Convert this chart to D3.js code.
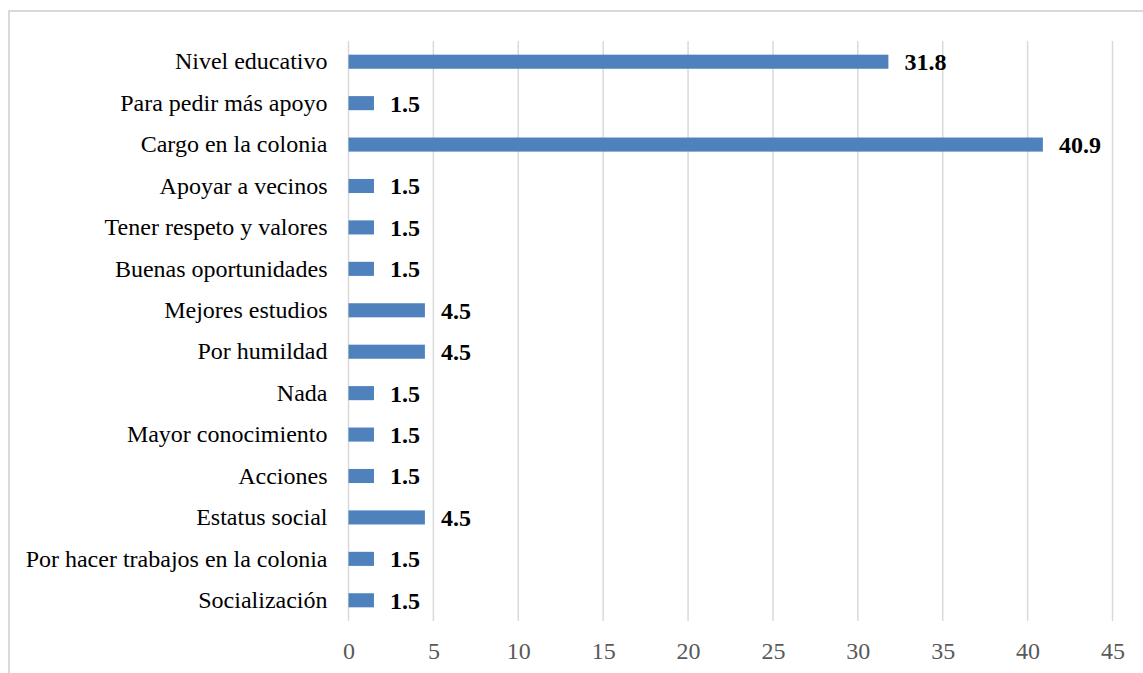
<!DOCTYPE html>
<html><head><meta charset="utf-8">
<script src="https://cdn.jsdelivr.net/npm/d3@7"></script>
<style>
html,body{margin:0;padding:0;background:#fff;}
svg{display:block;}
.lbl{font-family:"Liberation Serif","Times New Roman",Times,serif;}
.tick-num{font-family:"Liberation Serif","Times New Roman",Times,serif;}
</style></head>
<body>
<script>
const categories = ["Nivel educativo","Para pedir más apoyo","Cargo en la colonia","Apoyar a vecinos","Tener respeto y valores","Buenas oportunidades","Mejores estudios","Por humildad","Nada","Mayor conocimiento","Acciones","Estatus social","Por hacer trabajos en la colonia","Socialización"];
const values = [31.8,1.5,40.9,1.5,1.5,1.5,4.5,4.5,1.5,1.5,1.5,4.5,1.5,1.5];
const tickValues = [0,5,10,15,20,25,30,35,40,45];

const W = 1143, H = 673;
const svg = d3.select("body").append("svg").attr("width", W).attr("height", H);

svg.append("rect").attr("x", 9).attr("y", 11).attr("width", W + 20).attr("height", H + 20)
  .attr("fill", "none").attr("stroke", "#d9d9d9").attr("stroke-width", 2);

const x0 = 348.5, x1 = 1112.5, yTop = 41, yBot = 621;
const x = d3.scaleLinear().domain([0, 45]).range([x0, x1]);
const y = d3.scaleBand().domain(categories).range([yTop, yBot]).paddingInner(0.66).paddingOuter(0.33);

svg.append("g").selectAll("line").data(tickValues).join("line")
  .attr("x1", d => x(d)).attr("x2", d => x(d))
  .attr("y1", yTop).attr("y2", yBot)
  .attr("stroke", "#d9d9d9").attr("stroke-width", 1.5);

const xAxis = d3.axisBottom(x).tickValues(tickValues).tickSize(0).tickPadding(0).tickFormat(d3.format("d"));
const gx = svg.append("g").attr("transform", `translate(0,651)`).call(xAxis)
  .attr("font-family", null).attr("font-size", null);
gx.select(".domain").remove();
gx.selectAll("text").attr("class", "tick-num").attr("fill", "#595959")
  .style("font-size", "24px").attr("y", 0).attr("dy", "0.35em");

const yAxis = d3.axisLeft(y).tickSize(0).tickPadding(21);
const gy = svg.append("g").attr("transform", `translate(${x0},0)`).call(yAxis)
  .attr("font-family", null).attr("font-size", null);
gy.select(".domain").remove();
gy.selectAll("text").attr("class", "lbl").attr("fill", "#000").style("font-size", "24px");

svg.append("g").selectAll("rect").data(values).join("rect")
  .attr("x", x(0)).attr("y", (d, i) => y(categories[i]))
  .attr("width", d => x(d) - x(0)).attr("height", y.bandwidth())
  .attr("fill", "#4f81bd");

svg.append("g").selectAll("text").data(values).join("text")
  .attr("class", "lbl")
  .attr("x", d => x(d) + 16).attr("y", (d, i) => y(categories[i]) + y.bandwidth() / 2)
  .attr("dy", "0.35em")
  .style("font-size", "24px").style("font-weight", "bold").attr("fill", "#000")
  .text(d => d.toFixed(1));
</script>
</body></html>
